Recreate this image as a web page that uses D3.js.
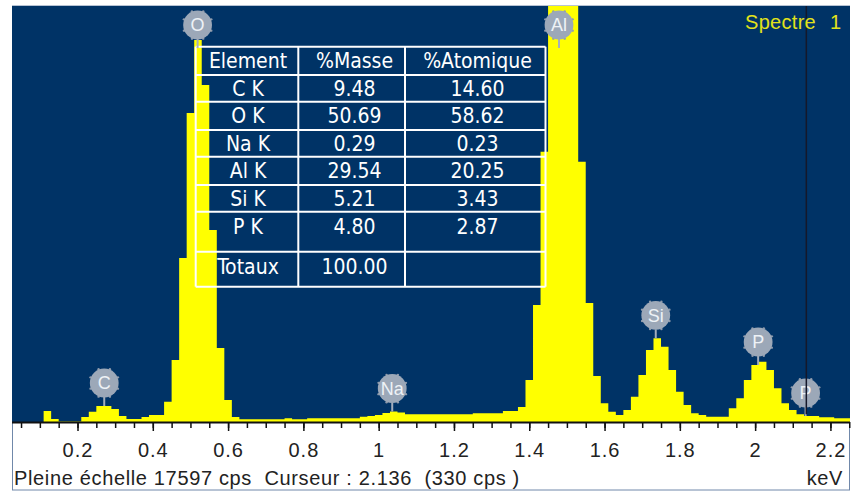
<!DOCTYPE html>
<html>
<head>
<meta charset="utf-8">
<script src="https://cdn.jsdelivr.net/npm/d3@7/dist/d3.min.js"></script>
<style>
body { margin: 0; background: #fff; }
</style>
</head>
<body>
<div id="chart"></div>
<script>
// spectrum bins (keV centre, 0.02 keV wide) and counts
var energies = [0.12, 0.14, 0.16, 0.18, 0.20, 0.22, 0.24, 0.26, 0.28, 0.30,
    0.32, 0.34, 0.36, 0.38, 0.40, 0.42, 0.44, 0.46, 0.48, 0.50,
    0.52, 0.54, 0.56, 0.58, 0.60, 0.62, 0.64, 0.66, 0.68, 0.70,
    0.72, 0.74, 0.76, 0.78, 0.80, 0.82, 0.84, 0.86, 0.88, 0.90,
    0.92, 0.94, 0.96, 0.98, 1.00, 1.02, 1.04, 1.06, 1.08, 1.10,
    1.12, 1.14, 1.16, 1.18, 1.20, 1.22, 1.24, 1.26, 1.28, 1.30,
    1.32, 1.34, 1.36, 1.38, 1.40, 1.42, 1.44, 1.46, 1.48, 1.50,
    1.52, 1.54, 1.56, 1.58, 1.60, 1.62, 1.64, 1.66, 1.68, 1.70,
    1.72, 1.74, 1.76, 1.78, 1.80, 1.82, 1.84, 1.86, 1.88, 1.90,
    1.92, 1.94, 1.96, 1.98, 2.00, 2.02, 2.04, 2.06, 2.08, 2.10,
    2.12, 2.14, 2.16, 2.18, 2.20, 2.22, 2.24, 2.26];
var counts = [465, 127, 21, 21, 21, 212, 436, 677, 677, 550,
    254, 127, 127, 212, 296, 296, 859, 2623, 6937, 13071,
    16159, 14255, 8122, 3130, 931, 212, 114, 114, 114, 114,
    114, 114, 157, 114, 114, 157, 157, 157, 157, 157,
    157, 157, 224, 254, 296, 381, 444, 402, 326, 326,
    326, 326, 326, 326, 326, 326, 326, 368, 368, 368,
    368, 465, 465, 635, 1777, 4949, 11434, 19600, 24800, 23900,
    18700, 11011, 5034, 1946, 791, 436, 296, 508, 1070, 1988,
    3046, 3540, 3185, 2200, 1282, 719, 368, 296, 224, 224,
    224, 580, 1003, 1777, 2411, 2551, 2200, 1426, 791, 508,
    326, 254, 254, 199, 199, 157, 157, 157];
var binWidth = 0.02;

var peakLabels = ["C", "O", "Na", "Al", "Si", "P", "P"];
var peakEnergies = [0.271, 0.519, 1.036, 1.479, 1.736, 2.008, 2.134];

var tickLabels = [0.2, 0.4, 0.6, 0.8, 1, 1.2, 1.4, 1.6, 1.8, 2, 2.2];

var tableHeader = ["Element", "%Masse", "%Atomique"];
var tableElements = ["C K", "O K", "Na K", "Al K", "Si K", "P K"];
var tableMasse = ["9.48", "50.69", "0.29", "29.54", "5.21", "4.80"];
var tableAtomique = ["14.60", "58.62", "0.23", "20.25", "3.43", "2.87"];
var totalRow = ["Totaux", "100.00", ""];

var fullScale = 17597;
var cursorKeV = 2.136;
var cursorCps = 330;
var spectrumName = "Spectre";
var spectrumNo = "1";

var W = 858, H = 495;
var plot = {left: 12, right: 850, top: 6, bottom: 422};

var svg = d3.select("#chart").append("svg")
    .attr("width", W).attr("height", H)
    .style("font-family", "'Liberation Sans', Arial, sans-serif");

var x = d3.scaleLinear().domain([0.026, 2.252]).range([plot.left, plot.right]);
var y = d3.scaleLinear().domain([0, fullScale]).range([plot.bottom, plot.top]).clamp(true);

// frame + backgrounds
svg.append("rect").attr("x", 12.5).attr("y", 6).attr("width", 837).attr("height", 484)
    .attr("fill", "#fff").attr("stroke", "#7088aa").attr("stroke-width", 1);
svg.append("rect").attr("x", plot.left).attr("y", plot.top)
    .attr("width", plot.right - plot.left).attr("height", plot.bottom - plot.top)
    .attr("fill", "#003366");

svg.append("clipPath").attr("id", "plotClip").append("rect")
    .attr("x", plot.left).attr("y", plot.top)
    .attr("width", plot.right - plot.left).attr("height", plot.bottom - plot.top);

// histogram as a step area
var steps = energies.map(function(e, i) { return {k: e - binWidth / 2, c: counts[i]}; });
steps.push({k: energies[energies.length - 1] + binWidth / 2, c: counts[counts.length - 1]});

var area = d3.area()
    .x(function(d) { return x(d.k); })
    .y0(y(0))
    .y1(function(d) { return y(d.c); })
    .curve(d3.curveStepAfter);

svg.append("path").datum(steps)
    .attr("clip-path", "url(#plotClip)")
    .attr("d", area)
    .attr("fill", "#ffff00");

// results table (no fill, bars show through)
var colEdges = [195.7, 298.3, 405, 545.5];
var rowEdges = [46.7, 75, 101.7, 130, 156.7, 185, 211.7, 251.7, 286.7];
var table = svg.append("g").attr("class", "table");
table.selectAll("line.h").data(rowEdges).join("line")
    .attr("class", "h")
    .attr("x1", colEdges[0]).attr("x2", colEdges[3])
    .attr("y1", function(d) { return d; }).attr("y2", function(d) { return d; })
    .attr("stroke", "#fff").attr("stroke-width", 2);
table.selectAll("line.v").data(colEdges).join("line")
    .attr("class", "v")
    .attr("y1", rowEdges[0]).attr("y2", rowEdges[rowEdges.length - 1])
    .attr("x1", function(d) { return d; }).attr("x2", function(d) { return d; })
    .attr("stroke", "#fff").attr("stroke-width", 2);

var rows = [tableHeader].concat(tableElements.map(function(el, i) {
    return [el, tableMasse[i], tableAtomique[i]];
})).concat([totalRow]);
var rowMid = [60.5, 88.3, 115.5, 143.3, 170.8, 198.8, 226.5, 266];
var colMid = [248, 354.5, 477.5];

rows.forEach(function(r, ri) {
    table.selectAll(null).data(r).join("text")
        .attr("x", function(d, ci) { return colMid[ci]; })
        .attr("y", rowMid[ri])
        .attr("dy", "0.36em")
        .attr("text-anchor", "middle")
        .style("font-family", "'DejaVu Sans Condensed', 'DejaVu Sans', sans-serif")
        .style("font-stretch", "condensed")
        .style("font-size", "21px")
        .attr("fill", "#fff")
        .text(function(d) { return d; });
});

// element markers
var markers = svg.append("g").attr("class", "markers");
peakLabels.forEach(function(lab, i) {
    var e = peakEnergies[i];
    var idx = d3.minIndex(energies, function(v) { return Math.abs(v - e); });
    var top = y(counts[idx]);
    var cx = x(e);
    var cy = Math.max(25, top - 23);
    var r = 15;
    var stemBottom = Math.max(top, cy + r + 8);
    var g = markers.append("g");
    g.append("line").attr("x1", cx).attr("x2", cx)
        .attr("y1", cy + r - 1).attr("y2", stemBottom)
        .attr("stroke", "#a4aebc").attr("stroke-width", 2);
    g.selectAll("circle.b").data(d3.range(8)).join("circle")
        .attr("class", "b")
        .attr("cx", function(k) { return cx + (r - 0.2) * Math.cos(k * Math.PI / 4 + Math.PI / 8); })
        .attr("cy", function(k) { return cy + (r - 0.2) * Math.sin(k * Math.PI / 4 + Math.PI / 8); })
        .attr("r", 1.2).attr("fill", "#8e9aab");
    g.append("circle").attr("cx", cx).attr("cy", cy).attr("r", r - 0.6)
        .attr("fill", "#9ca8b8");
    g.append("text").attr("x", cx).attr("y", cy).attr("dy", "0.36em")
        .attr("text-anchor", "middle")
        .style("font-size", "18px")
        .attr("fill", "#eef2f6")
        .text(lab);
});

// cursor
svg.append("line")
    .attr("x1", x(cursorKeV)).attr("x2", x(cursorKeV))
    .attr("y1", plot.top).attr("y2", y(cursorCps))
    .attr("stroke", "#15182a").attr("stroke-width", 1.5);

// spectrum name
svg.append("text").attr("x", 745).attr("y", 29)
    .style("font-size", "20px").style("letter-spacing", "0.3px")
    .attr("fill", "#e2e21a").text(spectrumName);
svg.append("text").attr("x", 841).attr("y", 29).attr("text-anchor", "end")
    .style("font-size", "20px").attr("fill", "#e2e21a").text(spectrumNo);

// x axis
var minorAxis = d3.axisBottom(x)
    .tickValues(d3.range(1, 46).map(function(k) { return k * 0.05; }))
    .tickSize(6).tickFormat("");
var majorAxis = d3.axisBottom(x)
    .tickValues(tickLabels).tickSize(9).tickPadding(12)
    .tickFormat(function(d) { return String(+d.toFixed(1)); });

var gMinor = svg.append("g").attr("transform", "translate(0," + plot.bottom + ")").call(minorAxis);
var gMajor = svg.append("g").attr("transform", "translate(0," + plot.bottom + ")").call(majorAxis);
[gMinor, gMajor].forEach(function(g) {
    g.select(".domain").remove();
    g.selectAll(".tick line").attr("stroke", "#111").attr("stroke-width", 1.5);
});
gMajor.selectAll(".tick text")
    .style("font-family", "'Liberation Sans', Arial, sans-serif")
    .style("font-size", "20px")
    .style("letter-spacing", "1px")
    .attr("fill", "#222");

svg.append("line").attr("x1", plot.left).attr("x2", plot.right)
    .attr("y1", plot.bottom + 0.5).attr("y2", plot.bottom + 0.5)
    .attr("stroke", "#111").attr("stroke-width", 2);

// status line
svg.append("text").attr("x", 14).attr("y", 484.5)
    .style("font-size", "20px").style("letter-spacing", "0.65px").attr("fill", "#222")
    .attr("xml:space", "preserve").style("white-space", "pre")
    .text("Pleine échelle " + fullScale + " cps  Curseur : " + cursorKeV + "  (" + cursorCps + " cps )");
svg.append("text").attr("x", 843).attr("y", 484.5).attr("text-anchor", "end")
    .style("font-size", "20px").style("letter-spacing", "0.6px").attr("fill", "#222").text("keV");
</script>
</body>
</html>
